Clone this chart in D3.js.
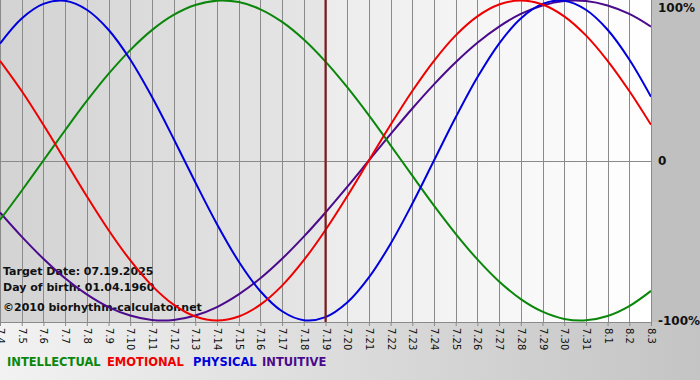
<!DOCTYPE html>
<html><head><meta charset="utf-8">
<script src="https://cdn.jsdelivr.net/npm/d3@7"></script>
<style>html,body{margin:0;padding:0;background:#fff;}svg{display:block;}</style>
</head><body>
<script>
const dayLabels = ["7.4","7.5","7.6","7.7","7.8","7.9","7.10","7.11","7.12","7.13","7.14","7.15","7.16","7.17","7.18","7.19","7.20","7.21","7.22","7.23","7.24","7.25","7.26","7.27","7.28","7.29","7.30","7.31","8.1","8.2","8.3"];
const physical = [0.731,0.888,0.979,0.998,0.942,0.817,0.631,0.398,0.136,-0.136,-0.398,-0.631,-0.817,-0.942,-0.998,-0.979,-0.888,-0.731,-0.520,-0.270,0,0.270,0.520,0.731,0.888,0.979,0.998,0.942,0.817,0.631,0.398];
const emotional = [0.623,0.434,0.223,0,-0.223,-0.434,-0.623,-0.782,-0.901,-0.975,-1,-0.975,-0.901,-0.782,-0.623,-0.434,-0.223,0,0.223,0.434,0.623,0.782,0.901,0.975,1,0.975,0.901,0.782,0.623,0.434,0.223];
const intellectual = [-0.372,-0.189,0,0.189,0.372,0.541,0.690,0.815,0.910,0.972,0.999,0.990,0.945,0.866,0.756,0.618,0.458,0.282,0.095,-0.095,-0.282,-0.458,-0.618,-0.756,-0.866,-0.945,-0.990,-0.999,-0.972,-0.910,-0.815];
const intuitive = [-0.325,-0.476,-0.614,-0.736,-0.837,-0.916,-0.969,-0.997,-0.997,-0.969,-0.916,-0.837,-0.736,-0.614,-0.476,-0.325,-0.165,0,0.165,0.325,0.476,0.614,0.736,0.837,0.916,0.969,0.997,0.997,0.969,0.916,0.837];
const targetIndex = 15;
const yTickValues = [1, 0, -1];
const yTickLabels = ["100%", "0", "-100%"];
const legendNames = ["INTELLECTUAL", "EMOTIONAL", "PHYSICAL", "INTUITIVE"];
const infoLines = ["Target Date: 07.19.2025", "Day of birth: 01.04.1960", "©2010 biorhythm-calculator.net"];

const series = [
  {name: "INTELLECTUAL", values: intellectual, color: "#0a870a"},
  {name: "EMOTIONAL", values: emotional, color: "#ee0000"},
  {name: "PHYSICAL", values: physical, color: "#0000dd"},
  {name: "INTUITIVE", values: intuitive, color: "#4b0a8c"}
];

const W = 700, H = 380;
const plotL = 0, plotR = 651, plotT = 0, plotB = 322;
const svg = d3.select("body").append("svg").attr("width", W).attr("height", H);
const defs = svg.append("defs");
function grad(id, c1, c2) {
  const g = defs.append("linearGradient").attr("id", id).attr("x1", "0%").attr("x2", "100%").attr("y1", "0%").attr("y2", "0%");
  g.append("stop").attr("offset", "0%").attr("stop-color", c1);
  g.append("stop").attr("offset", "100%").attr("stop-color", c2);
}
grad("gBottom", "#f2f2f2", "#c4c4c4");
grad("gLeft", "#d3d3d3", "#e6e6e6");
grad("gRight", "#ececec", "#ffffff");

const x = d3.scaleLinear().domain([0, dayLabels.length - 1]).range([plotL, plotR]);
const y = d3.scaleLinear().domain([-1, 1]).range([320.5, 0.5]);

// backgrounds
svg.append("rect").attr("x", 0).attr("y", 0).attr("width", W).attr("height", H).attr("fill", "url(#gBottom)");
svg.append("rect").attr("x", plotR).attr("y", 0).attr("width", W - plotR).attr("height", plotB).attr("fill", "#c0c0c0");
svg.append("rect").attr("x", plotL).attr("y", plotT).attr("width", x(targetIndex) - plotL).attr("height", plotB - plotT).attr("fill", "url(#gLeft)");
svg.append("rect").attr("x", x(targetIndex)).attr("y", plotT).attr("width", plotR - x(targetIndex)).attr("height", plotB - plotT).attr("fill", "url(#gRight)");

// vertical grid
svg.append("g").selectAll("line").data(dayLabels).join("line")
  .attr("x1", (d, i) => Math.round(x(i)) + 0.5).attr("x2", (d, i) => Math.round(x(i)) + 0.5)
  .attr("y1", plotT).attr("y2", plotB)
  .attr("stroke", "#8a8a8a").attr("stroke-width", 1);

// zero line
svg.append("line").attr("x1", plotL).attr("x2", plotR).attr("y1", Math.round(y(0)) + 0.5).attr("y2", Math.round(y(0)) + 0.5)
  .attr("stroke", "#8a8a8a");

// bottom axis
const xAxis = d3.axisBottom(x).tickValues(d3.range(dayLabels.length)).tickFormat(i => dayLabels[i]).tickSize(4).tickSizeOuter(0);
const ax = svg.append("g").attr("transform", `translate(0,${plotB})`).call(xAxis);
ax.select(".domain").attr("stroke", "#8a8a8a");
ax.selectAll(".tick line").attr("stroke", "#8a8a8a");
ax.selectAll(".tick text")
  .attr("transform", "rotate(90)")
  .attr("x", 6).attr("y", 0).attr("dy", "0.35em")
  .attr("text-anchor", "start")
  .attr("font-family", "DejaVu Sans, Verdana, sans-serif").attr("font-size", 10).attr("fill", "#111");

// y labels
svg.append("g").selectAll("text").data(yTickValues).join("text")
  .attr("x", 658).attr("y", d => Math.max(y(d), 7)).attr("dy", "0.38em")
  .attr("font-family", "DejaVu Sans, Verdana, sans-serif").attr("font-weight", "bold").attr("font-size", 12)
  .attr("fill", "#111").text((d, i) => yTickLabels[i]);

// info text
svg.append("g").selectAll("text").data(infoLines).join("text")
  .attr("x", 3).attr("y", (d, i) => [275, 291, 311][i])
  .attr("font-family", "DejaVu Sans, Verdana, sans-serif").attr("font-weight", "bold").attr("font-size", 11)
  .attr("fill", "#111").text(d => d);

// curves
const line = d3.line().x((d, i) => x(i)).y(d => y(d)).curve(d3.curveCatmullRom.alpha(0.5));
const clip = defs.append("clipPath").attr("id", "clipPlot");
clip.append("rect").attr("x", plotL).attr("y", -2).attr("width", plotR - plotL).attr("height", plotB + 2);
const order = [series[3], series[0], series[2], series[1]];
svg.append("g").attr("clip-path", "url(#clipPlot)").selectAll("path").data(order).join("path")
  .attr("d", d => line(d.values)).attr("fill", "none").attr("stroke", d => d.color).attr("stroke-width", 2);

// target line
svg.append("line").attr("x1", x(targetIndex)).attr("x2", x(targetIndex)).attr("y1", plotT).attr("y2", plotB)
  .attr("stroke", "#8a1515").attr("stroke-width", 2);

// legend
const legendX = [7, 107, 193, 262];
svg.append("g").selectAll("text").data(series).join("text")
  .attr("x", (d, i) => legendX[i]).attr("y", 366)
  .attr("font-family", "DejaVu Sans, Verdana, sans-serif").attr("font-weight", "bold").attr("font-size", 11.5)
  .attr("fill", d => d.color).text((d, i) => legendNames[i]);
</script>
</body></html>
